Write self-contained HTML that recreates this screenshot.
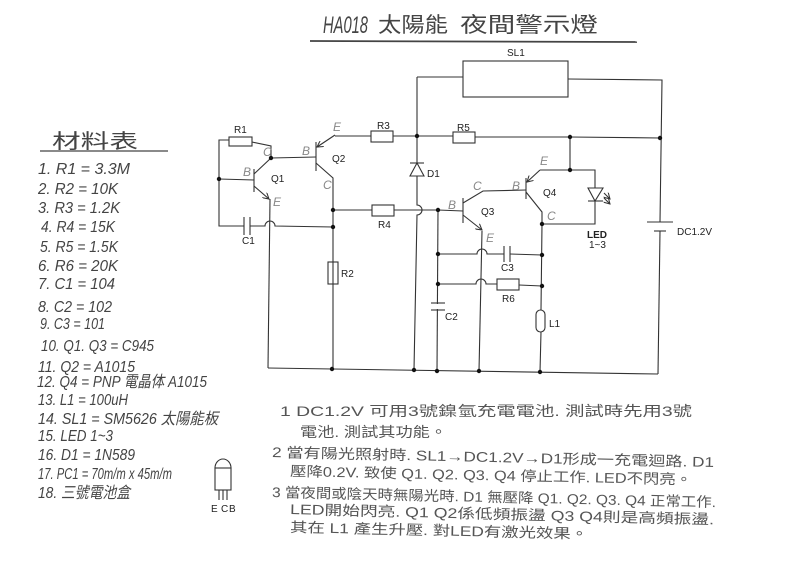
<!DOCTYPE html>
<html><head><meta charset="utf-8">
<style>
html,body{margin:0;padding:0;background:#fff;}
svg{display:block;}
.w{stroke:#333;stroke-width:1.1;fill:none;}
.lab{font-family:"Liberation Sans",sans-serif;font-size:10px;fill:#222;}
.hw{font-family:"Liberation Sans",sans-serif;font-size:12px;fill:#888;font-style:italic;}
.lst{font-family:"Liberation Sans","Noto Sans CJK TC",sans-serif;font-size:16px;fill:#444;font-style:italic;}
.nt{font-family:"Liberation Sans","Noto Sans CJK TC",sans-serif;font-size:14px;fill:#555;}
</style></head>
<body>
<svg width="788" height="574" viewBox="0 0 788 574" xmlns="http://www.w3.org/2000/svg">
<defs>
<marker id="ah" viewBox="0 0 8 8" refX="7" refY="4" markerWidth="7" markerHeight="7" markerUnits="userSpaceOnUse" orient="auto">
<path d="M0,0 L7,4 L0,8" fill="none" stroke="#333" stroke-width="1.2"/>
</marker>
</defs>

<!-- Title -->
<text x="323" y="33" font-family="Liberation Sans" font-style="italic" font-size="24" fill="#444" textLength="45" lengthAdjust="spacingAndGlyphs">HA018</text>
<text x="378" y="32" font-family="Liberation Sans, Noto Sans CJK TC, sans-serif" font-size="21" fill="#444" textLength="70" lengthAdjust="spacingAndGlyphs">太陽能</text>
<text x="460" y="32" font-family="Liberation Sans, Noto Sans CJK TC, sans-serif" font-size="21" fill="#444" textLength="138" lengthAdjust="spacingAndGlyphs">夜間警示燈</text>
<line x1="310" y1="41" x2="637" y2="42" stroke="#444" stroke-width="1.8"/>

<!-- SL1 -->
<rect x="463" y="61" width="105" height="36" class="w"/>
<text x="507" y="56" class="lab">SL1</text>
<polyline class="w" points="463,77 417,77"/>
<polyline class="w" points="568,79 662,80 660,222"/>
<!-- battery -->
<line x1="647" y1="222" x2="673" y2="222" class="w"/>
<line x1="654" y1="231" x2="666" y2="231" class="w"/>
<polyline class="w" points="660,231 658,374"/>
<text x="677" y="235" class="lab" font-size="11">DC1.2V</text>

<!-- bottom wire -->
<polyline class="w" points="268,368 658,374"/>

<!-- R1 / Q1 area -->
<rect x="229" y="137" width="23" height="9" class="w" fill="#fff"/>
<text x="234" y="133" class="lab">R1</text>
<polyline class="w" points="229,140 219,140 219,226 244,226"/>
<polyline class="w" points="252,142 271,146 271,158"/>
<!-- C1 -->
<line x1="244" y1="217" x2="244" y2="235" class="w"/>
<line x1="250" y1="217" x2="250" y2="235" class="w"/>
<path class="w" d="M250,226 L265,226 A5,5 0 0 1 275,226 L333,227"/>
<text x="242" y="244" class="lab">C1</text>
<!-- Q1 -->
<line x1="219" y1="179" x2="254" y2="180" class="w"/>
<line x1="254" y1="169" x2="254" y2="192" class="w" stroke-width="1.6"/>
<line x1="254" y1="174" x2="271" y2="158" class="w"/>
<line x1="254" y1="186" x2="269" y2="199" class="w" marker-end="url(#ah)"/>
<polyline class="w" points="270,199 268,368"/>
<text x="271" y="182" class="lab">Q1</text>
<text x="243" y="176" class="hw">B</text>
<text x="263" y="156" class="hw">C</text>
<text x="273" y="206" class="hw">E</text>
<!-- Q2 -->
<line x1="271" y1="158" x2="316" y2="157" class="w"/>
<line x1="316" y1="142" x2="316" y2="171" class="w" stroke-width="1.6"/>
<line x1="335" y1="135" x2="317" y2="147" class="w" marker-end="url(#ah)"/>
<polyline class="w" points="316,163 333,178 333,369"/>
<text x="332" y="162" class="lab">Q2</text>
<text x="302" y="155" class="hw">B</text>
<text x="333" y="131" class="hw">E</text>
<text x="323" y="189" class="hw">C</text>
<!-- R3 -->
<line x1="335" y1="136" x2="371" y2="136" class="w"/>
<rect x="371" y="131" width="22" height="11" class="w" fill="#fff"/>
<line x1="393" y1="136" x2="417" y2="136" class="w"/>
<text x="377" y="129" class="lab">R3</text>
<!-- R2 -->
<rect x="328" y="262" width="10" height="22" class="w" fill="#fff"/>
<text x="341" y="277" class="lab">R2</text>
<!-- R4 -->
<line x1="333" y1="210" x2="372" y2="210" class="w"/>
<rect x="372" y="205" width="22" height="11" class="w" fill="#fff"/>
<line x1="394" y1="210" x2="438" y2="210" class="w"/>
<text x="378" y="228" class="lab">R4</text>
<!-- D1 -->
<line x1="417" y1="77" x2="417" y2="163" class="w"/>
<line x1="410" y1="163" x2="424" y2="163" class="w"/>
<polygon points="417,163 410,176 424,176" class="w" fill="#fff"/>
<path class="w" d="M417,176 L417,205 A5,5 0 0 1 417,215 L414,370"/>
<text x="427" y="177" class="lab">D1</text>
<!-- R5 -->
<line x1="417" y1="136" x2="453" y2="136" class="w"/>
<rect x="453" y="132" width="22" height="11" class="w" fill="#fff"/>
<polyline class="w" points="475,137 570,137 660,138"/>
<text x="457" y="131" class="lab">R5</text>

<!-- Q3 -->
<line x1="438" y1="210" x2="463" y2="211" class="w"/>
<line x1="463" y1="198" x2="463" y2="223" class="w" stroke-width="1.6"/>
<polyline class="w" points="463,203 483,191 526,190"/>
<line x1="463" y1="215" x2="482" y2="230" class="w" marker-end="url(#ah)"/>
<polyline class="w" points="482,231 479,371"/>
<text x="481" y="215" class="lab">Q3</text>
<text x="448" y="209" class="hw">B</text>
<text x="473" y="190" class="hw">C</text>
<text x="486" y="242" class="hw">E</text>
<polyline class="w" points="438,210 437,371"/>
<!-- C3 row -->
<path class="w" d="M438,254 L477,254 A5,5 0 0 1 487,254 L504,254"/>
<line x1="504" y1="246" x2="504" y2="262" class="w"/>
<line x1="510" y1="246" x2="510" y2="262" class="w"/>
<line x1="510" y1="254" x2="542" y2="255" class="w"/>
<text x="501" y="271" class="lab">C3</text>
<!-- R6 row -->
<path class="w" d="M438,284 L476,284 A5,5 0 0 1 486,284 L497,284"/>
<rect x="497" y="279" width="22" height="11" class="w" fill="#fff"/>
<line x1="519" y1="285" x2="542" y2="286" class="w"/>
<text x="502" y="302" class="lab">R6</text>
<!-- C2 -->
<line x1="431" y1="303" x2="445" y2="303" class="w" fill="#fff"/>
<line x1="431" y1="310" x2="445" y2="310" class="w"/>
<rect x="434" y="304" width="8" height="5" fill="#fff"/>
<text x="445" y="320" class="lab">C2</text>

<!-- Q4 -->
<line x1="570" y1="137" x2="570" y2="170" class="w"/>
<line x1="570" y1="170" x2="540" y2="170" class="w"/>
<line x1="540" y1="170" x2="527" y2="182" class="w" marker-end="url(#ah)"/>
<line x1="526" y1="178" x2="526" y2="199" class="w" stroke-width="1.6"/>
<polyline class="w" points="526,192 542,212 542,224 541,310"/>
<text x="543" y="196" class="lab">Q4</text>
<text x="512" y="190" class="hw">B</text>
<text x="540" y="165" class="hw">E</text>
<text x="547" y="220" class="hw">C</text>
<!-- LED -->
<polyline class="w" points="570,170 595,170 595,188"/>
<polygon points="588,188 603,188 595,201" class="w" fill="#fff"/>
<line x1="588" y1="201" x2="603" y2="201" class="w"/>
<polyline class="w" points="595,201 595,224 542,224"/>
<line x1="604" y1="193" x2="610" y2="199" class="w" stroke-width="0.9" marker-end="url(#ah)"/>
<line x1="604" y1="198" x2="610" y2="204" class="w" stroke-width="0.9" marker-end="url(#ah)"/>
<text x="587" y="238" class="lab" font-weight="bold" font-size="9">LED</text>
<text x="589" y="248" class="lab" font-size="7">1~3</text>
<!-- L1 -->
<rect x="536" y="310" width="9" height="22" rx="4.5" class="w" fill="#fff"/>
<line x1="541" y1="332" x2="540" y2="372" class="w"/>
<text x="549" y="327" class="lab">L1</text>

<!-- nodes -->
<g fill="#111">
<circle cx="219" cy="179" r="2.2"/><circle cx="271" cy="158" r="2.2"/>
<circle cx="333" cy="210" r="2.2"/><circle cx="333" cy="227" r="2.2"/>
<circle cx="417" cy="136" r="2.2"/><circle cx="570" cy="137" r="2.2"/>
<circle cx="660" cy="138" r="2.2"/><circle cx="570" cy="170" r="2.2"/>
<circle cx="438" cy="210" r="2.2"/><circle cx="542" cy="224" r="2.2"/>
<circle cx="438" cy="254" r="2.2"/><circle cx="542" cy="255" r="2.2"/>
<circle cx="438" cy="284" r="2.2"/><circle cx="542" cy="286" r="2.2"/>
<circle cx="332" cy="369" r="2.2"/><circle cx="414" cy="370" r="2.2"/>
<circle cx="437" cy="371" r="2.2"/><circle cx="479" cy="371" r="2.2"/>
<circle cx="540" cy="372" r="2.2"/>
</g>

<!-- Material list -->
<text x="52" y="148" font-family="Liberation Sans, Noto Sans CJK TC, sans-serif" font-size="20" fill="#444" textLength="86" lengthAdjust="spacingAndGlyphs">材料表</text>
<line x1="40" y1="151" x2="168" y2="151" stroke="#444" stroke-width="1.2"/>
<g class="lst">
<text x="38" y="174" textLength="92" lengthAdjust="spacingAndGlyphs">1. R1 = 3.3M</text>
<text x="38" y="194" textLength="80" lengthAdjust="spacingAndGlyphs">2. R2 = 10K</text>
<text x="38" y="213" textLength="82" lengthAdjust="spacingAndGlyphs">3. R3 = 1.2K</text>
<text x="41" y="232" textLength="74" lengthAdjust="spacingAndGlyphs">4. R4 = 15K</text>
<text x="40" y="252" textLength="78" lengthAdjust="spacingAndGlyphs">5. R5 = 1.5K</text>
<text x="38" y="271" textLength="80" lengthAdjust="spacingAndGlyphs">6. R6 = 20K</text>
<text x="38" y="289" textLength="77" lengthAdjust="spacingAndGlyphs">7. C1 = 104</text>
<text x="38" y="312" textLength="74" lengthAdjust="spacingAndGlyphs">8. C2 = 102</text>
<text x="40" y="329" textLength="65" lengthAdjust="spacingAndGlyphs">9. C3 = 101</text>
<text x="41" y="351" textLength="113" lengthAdjust="spacingAndGlyphs">10. Q1. Q3 = C945</text>
<text x="38" y="372" textLength="97" lengthAdjust="spacingAndGlyphs">11. Q2 = A1015</text>
<text x="37" y="387" textLength="170" lengthAdjust="spacingAndGlyphs">12. Q4 = PNP 電晶体 A1015</text>
<text x="38" y="405" textLength="90" lengthAdjust="spacingAndGlyphs">13. L1 = 100uH</text>
<text x="38" y="424" textLength="180" lengthAdjust="spacingAndGlyphs">14. SL1 = SM5626 太陽能板</text>
<text x="38" y="441" textLength="75" lengthAdjust="spacingAndGlyphs">15. LED 1~3</text>
<text x="38" y="460" textLength="97" lengthAdjust="spacingAndGlyphs">16. D1 = 1N589</text>
<text x="38" y="479" textLength="134" lengthAdjust="spacingAndGlyphs">17. PC1 = 70m/m x 45m/m</text>
<text x="38" y="498" textLength="92" lengthAdjust="spacingAndGlyphs">18. 三號電池盒</text>
</g>

<!-- transistor icon -->
<path class="w" d="M215,468 A8,9 0 0 1 231,468 Z"/>
<rect x="215" y="468" width="16" height="22" class="w"/>
<line x1="219" y1="490" x2="219" y2="500" class="w"/>
<line x1="223" y1="490" x2="223" y2="500" class="w"/>
<line x1="227" y1="490" x2="227" y2="500" class="w"/>
<text x="211" y="512" class="lab" font-size="9" fill="#444">E</text>
<text x="221" y="512" class="lab" font-size="10" fill="#444">C</text>
<text x="229" y="512" class="lab" font-size="10" fill="#444">B</text>

<!-- notes -->
<g class="nt">
<text x="280" y="416" textLength="412" lengthAdjust="spacingAndGlyphs">1  DC1.2V 可用3號鎳氫充電電池. 測試時先用3號</text>
<text x="300" y="437" textLength="147" lengthAdjust="spacingAndGlyphs">電池. 測試其功能。</text>
<text x="272" y="457" textLength="442" lengthAdjust="spacingAndGlyphs" transform="rotate(1.3 272 457)">2 當有陽光照射時. SL1→DC1.2V→D1形成一充電迴路. D1</text>
<text x="290" y="476" textLength="402" lengthAdjust="spacingAndGlyphs" transform="rotate(1.2 290 476)">壓降0.2V. 致使 Q1. Q2. Q3. Q4 停止工作. LED不閃亮。</text>
<text x="272" y="497" textLength="444" lengthAdjust="spacingAndGlyphs" transform="rotate(1.3 272 497)">3 當夜間或陰天時無陽光時. D1 無壓降 Q1. Q2. Q3. Q4 正常工作.</text>
<text x="290" y="514" textLength="424" lengthAdjust="spacingAndGlyphs" transform="rotate(1.4 290 514)">LED開始閃亮. Q1 Q2係低頻振盪   Q3 Q4則是高頻振盪.</text>
<text x="290" y="532" textLength="298" lengthAdjust="spacingAndGlyphs" transform="rotate(1.3 290 532)">其在 L1 產生升壓. 對LED有激光效果。</text>
</g>
</svg>
</body></html>
